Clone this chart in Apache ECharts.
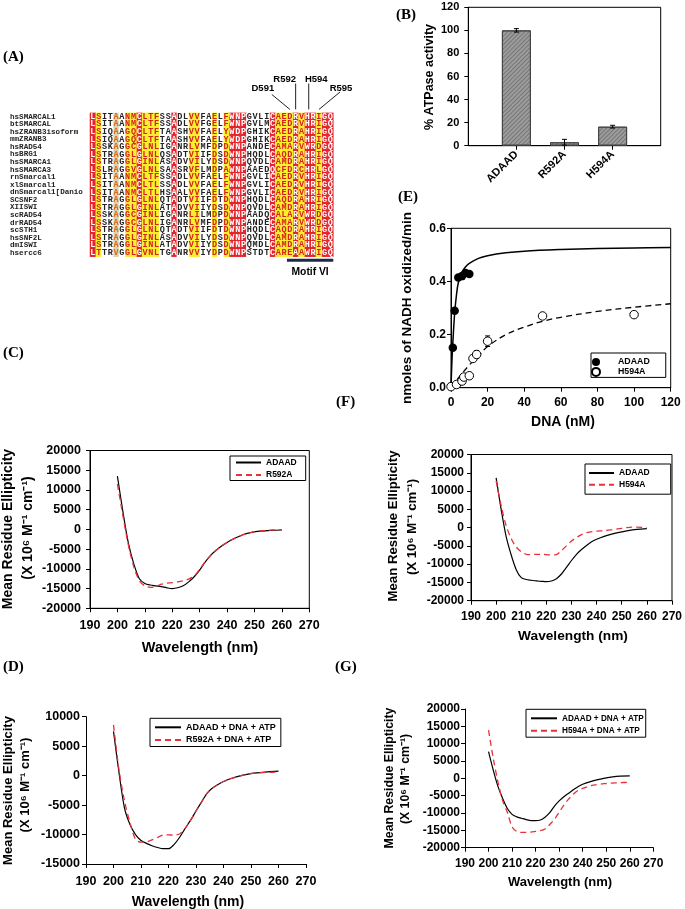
<!DOCTYPE html>
<html><head><meta charset="utf-8">
<script src="https://cdn.jsdelivr.net/npm/echarts@6/dist/echarts.min.js"></script>
<style>html,body{margin:0;padding:0;background:#fff}#c{width:685px;height:909px}</style>
</head><body><div id="c"></div>
<script>
const FONT = '"Liberation Sans", Arial, sans-serif';
const MONO = '"Liberation Mono", "DejaVu Sans Mono", monospace';
const SERIF = '"Liberation Serif", "Times New Roman", serif';

// ---------- Panel A: alignment ----------
const seqNames = ['hsSMARCAL1','btSMARCAL','hsZRANB3isoform','mmZRANB3','hsRAD54','hsBRG1','hsSMARCA1','hsSMARCA3','rnSmarcal1','xlSmarcal1','dnSmarcal1[Danio','SCSNF2','XIISWI','scRAD54','drRAD54','scSTH1','hsSNF2L','dmISWI','hsercc6'];
const seqs = [
 'LSITAANMCLTFSSADLVVFAELFWNPGVLICAEDRVHRIGQ',
 'LSITAANMCLTFSSADLVVFGELFWNPGVLMCAEDRVHRIGQ',
 'LSIQAAGQCLTFTAASHVVFAELYWDPGHIKCAEDRAHRIGQ',
 'LSIQAAGQCLTFTAASHVVFAELYWDPGHIKCAEDRAHRIGQ',
 'LSSKAGGCGLNLIGANRLVMFDPDWNPANDECAMARVWRDGQ',
 'LSTRAGGLGLNLQSADTVIIFDSDWNPHQDLCAQDRAHRIGQ',
 'LSTRAGGLGINLASADVVILYDSDWNPQVDLCAMDRAHRIGQ',
 'LSLRAGGVGLNLSAASRVFLMDPAWNPAAEDQCFDRCHRLGQ',
 'LSITAANMCLTFSSADLVVFAELFWNPGVLICAEDRVHRIGQ',
 'LSITAANMCLTLSSADLVVFAELFWNPGVLICAEDRVHRIGQ',
 'LSITAANMCLTLHSAALVVFAELFWNPGVLICAEDRVHRIGQ',
 'LSTRAGGLGLNLQTADTVIIFDTDWNPHQDLCAQDRAHRIGQ',
 'LSTRAGGLGINLATADVVIIYDSDWNPQVDLCAMDRAHRIGQ',
 'LSSKAGGCGINLIGANRLILMDPDWNPAADQCALARVWRDGQ',
 'LSSKAGGCGLNLIGANRLVMFDPDWNPANDECAMARVWRDGQ',
 'LSTRAGGLGLNLQTADTVIIFDTDWNPHQDLCAQDRAHRIGQ',
 'LSTRAGGLGINLASADVVILYDSDWNPQVDLCAMDRAHRIGQ',
 'LSTRAGGLGINLATADVVIIYDSDWNPQMDLCAMDRAHRIGQ',
 'LTTRVGGLGVNLTGANRVVIYDPDWNPSTDTCAREAAWRIGQ'
];
const columnClass = 'RYWWBWYYRYYYWWRWWYYWWYWYRRRWWWWRYYYRYRRYRR';
const siteLabels = ['D591','R592','H594','R595'];
const siteColumns = [34, 35, 37, 38];
const motifLabel = 'Motif VI';
const motifColumns = [34, 41];

// ---------- Panel B ----------
const bNames = ['ADAAD','R592A','H594A'];
const bValues = [100, 3, 16.5];
const bErrors = [1.5, 2.5, 1.2];

// ---------- Panel E ----------
const eAdaadX = [1, 2, 4, 6, 8, 10];
const eAdaadY = [0.15, 0.29, 0.415, 0.42, 0.432, 0.428];
const eH594X = [0, 3, 6, 7, 10, 12, 14, 20, 50, 100];
const eH594Y = [0.004, 0.012, 0.025, 0.04, 0.045, 0.11, 0.125, 0.175, 0.27, 0.275];
const eH594Err = [0, 0, 0, 0, 0.005, 0.008, 0.015, 0.02, 0.005, 0.005];
const eAdaadFitX = [0, 0.5, 1, 2, 3, 4, 6, 8, 10, 15, 20, 30, 40, 60, 80, 100, 120];
const eAdaadFitY = [0, 0.1, 0.17, 0.28, 0.35, 0.395, 0.435, 0.455, 0.468, 0.487, 0.497, 0.508, 0.514, 0.52, 0.524, 0.526, 0.528];
const eH594FitX = [0, 5, 10, 15, 20, 30, 40, 50, 60, 80, 100, 120];
const eH594FitY = [0, 0.045, 0.085, 0.12, 0.155, 0.2, 0.228, 0.25, 0.265, 0.287, 0.303, 0.316];

// ---------- CD spectra (C, F, D, G) ----------
const wl = [200,202,204,206,208,210,212,214,216,218,220,222,224,226,228,230,232,234,236,238,240,243,246,249,252,256,260];
const cAdaad = [13500,4500,-3500,-8800,-12500,-13700,-14100,-14300,-14500,-14800,-15000,-14800,-14300,-13300,-12000,-10300,-8300,-6600,-5300,-4200,-3300,-2200,-1300,-750,-450,-250,-150];
const cR592A = [11500,3500,-4000,-9500,-13000,-14300,-14700,-14500,-13900,-13600,-13500,-13300,-13000,-12600,-11800,-10100,-8200,-6600,-5300,-4200,-3300,-2200,-1300,-750,-400,-200,-50];
const fAdaad = [13600,5000,-2500,-7500,-11500,-13700,-14200,-14400,-14600,-14700,-14800,-14600,-14000,-12700,-10900,-9000,-7300,-6000,-4900,-3900,-3200,-2400,-1800,-1300,-900,-500,-300];
const fH594A = [12800,6000,500,-3000,-5300,-6600,-7300,-7400,-7300,-7300,-7400,-7500,-7400,-6300,-5000,-3700,-2700,-1900,-1400,-1150,-950,-850,-600,-300,0,150,0];
const dAdaad = [7500,500,-5500,-8300,-10000,-11000,-11500,-11900,-12200,-12400,-12400,-11700,-10500,-9000,-7600,-6000,-4500,-3000,-2100,-1500,-1000,-450,-50,250,450,650,750];
const dR592A = [8600,1000,-4300,-8000,-10800,-11300,-11250,-10900,-10500,-10100,-10050,-10100,-9900,-9000,-7600,-6000,-4500,-3000,-2100,-1500,-1000,-450,-50,250,450,550,600];
const gAdaad = [7700,2400,-2300,-5800,-8700,-10400,-11100,-11500,-11900,-12200,-12200,-12000,-11200,-9900,-8000,-6500,-5300,-4300,-3300,-2400,-1700,-1000,-450,0,350,650,700];
const gH594A = [13900,5800,-1000,-6500,-9800,-14000,-15300,-15600,-15600,-15500,-15300,-15100,-14600,-13300,-11800,-9800,-7700,-6000,-4600,-3500,-2900,-2200,-1800,-1550,-1400,-1250,-1150];

// ---------- helpers ----------
const axisLine = {show:true, onZero:false, lineStyle:{color:'#000', width:1}};
const axisTick = {show:true, length:4, inside:false, lineStyle:{color:'#000', width:1}};
const plain = v => String(v);
function lbl(size, margin, extra){ return Object.assign({color:'#000', fontFamily:FONT, fontWeight:'bold', fontSize:size, margin:margin, formatter:plain}, extra||{}); }
function vAxis(gi, min, max, interval, label, extra){
  return Object.assign({type:'value', gridIndex:gi, min:min, max:max, interval:interval, splitLine:{show:false}, axisLine:axisLine, axisTick:axisTick, axisLabel:label}, extra||{});
}
const box = {show:true, borderColor:'#000', borderWidth:1, backgroundColor:'transparent'};
const pair = (xs, ys) => xs.map((x,i)=>[x, ys[i]]);
const BLACK = {color:'#000', width:1.2};
const REDDASH = {color:'#e8303a', width:1.3, type:[6,4]};

function errRender(params, api){
  const x = api.value(0), y = api.value(1), e = api.value(2);
  if (!e) return null;
  const t = api.coord([x, y+e]), b = api.coord([x, y-e]);
  const hw = 2.5, st = {stroke:'#000', lineWidth:1};
  return {type:'group', children:[
    {type:'line', shape:{x1:t[0],y1:t[1],x2:b[0],y2:b[1]}, style:st},
    {type:'line', shape:{x1:t[0]-hw,y1:t[1],x2:t[0]+hw,y2:t[1]}, style:st},
    {type:'line', shape:{x1:b[0]-hw,y1:b[1],x2:b[0]+hw,y2:b[1]}, style:st}
  ]};
}

// heatmap series for alignment
const classStyle = {
  R:{bg:'#e4232b', fg:'#ffffff'},
  Y:{bg:'#f9ef2e', fg:'#d4221c'},
  B:{bg:'#d9d2b2', fg:'#e0660e'},
  W:{bg:'#ffffff', fg:'#222222'}
};
const alignSeries = Object.keys(classStyle).map(k => {
  const data = [];
  seqs.forEach((s, r) => { for (let c = 0; c < s.length; c++) if (columnClass[c] === k) data.push([c, r, 0]); });
  return {type:'heatmap', xAxisIndex:0, yAxisIndex:0, data:data, itemStyle:{color:classStyle[k].bg},
    label:{show:true, color:classStyle[k].fg, fontFamily:MONO, fontWeight:'bold', fontSize:8.5,
      formatter: p => seqs[p.value[1]][p.value[0]]},
    emphasis:{disabled:true}};
});

function legend(left, top, names, opts){
  return Object.assign({left:left, top:top, orient:'vertical', data:names, formatter: n => n.slice(2),
    selectedMode:false, borderColor:'#000', borderWidth:1, borderRadius:0, itemWidth:26, itemHeight:9, itemGap:3.5,
    itemStyle:{opacity:0},
    textStyle:{fontFamily:FONT, fontWeight:'bold', fontSize:8.5, color:'#000', lineHeight:9}}, opts);
}

const option = {
  animation:false,
  backgroundColor:'#fff',
  grid:[
    {left:90, top:112.9, width:243.3, height:143.8},
    Object.assign({left:468.3, top:7.3, width:192.4, height:138.4}, box),
    Object.assign({left:451, top:228.3, width:219.7, height:159.4}, box),
    Object.assign({left:90, top:450.5, width:219.3, height:157.8}, box),
    Object.assign({left:471, top:454.5, width:203.3, height:146.2}, box),
    {left:86, top:716.7, width:220, height:147.3},
    {left:465, top:709, width:188.3, height:138.7}
  ],
  xAxis:[
    {type:'category', gridIndex:0, data:seqs[0].split('').map((_,i)=>String(i)), show:false},
    vAxis(1, 0, 4, 1, lbl(11, 7, {rotate:45, customValues:[1,2,3], formatter: v => bNames[v-1] || ''}),
      {axisTick:Object.assign({}, axisTick, {customValues:[1,2,3]})}),
    vAxis(2, 0, 120, 20, lbl(12, 9)),
    vAxis(3, 190, 270, 10, lbl(12.5, 11)),
    vAxis(4, 190, 270, 10, lbl(12, 10)),
    vAxis(5, 190, 270, 10, lbl(12.5, 11)),
    vAxis(6, 190, 270, 10, lbl(12, 10))
  ],
  yAxis:[
    {type:'category', gridIndex:0, data:seqNames, inverse:true, axisLine:{show:false}, axisTick:{show:false},
      axisLabel:{interval:0, align:'left', margin:80, fontFamily:MONO, fontWeight:'bold', fontSize:7.6, color:'#222'}},
    vAxis(1, 0, 120, 20, lbl(11, 9)),
    vAxis(2, 0, 0.6, 0.2, lbl(12, 5, {formatter: v => v.toFixed(1)})),
    vAxis(3, -20000, 20000, 5000, lbl(12.5, 9)),
    vAxis(4, -20000, 20000, 5000, lbl(12, 7)),
    vAxis(5, -15000, 10000, 5000, lbl(12.5, 6)),
    vAxis(6, -20000, 20000, 5000, lbl(12, 5))
  ],
  legend:[
    legend(591, 353, ['E_ADAAD','E_H594A'], {itemStyle:{opacity:1}, padding:[4.5,16,0.5,0], itemWidth:18, itemHeight:8, itemGap:0.4,
      textStyle:{fontFamily:FONT, fontWeight:'bold', fontSize:8.8, color:'#000', lineHeight:8, padding:[0,0,0,8]}}),
    legend(230, 456, ['C_ADAAD','C_R592A'], {padding:[2,9,1,5], itemWidth:25}),
    legend(585, 464, ['F_ADAAD','F_H594A'], {padding:[4.5,21,5,3], itemWidth:25, itemGap:2.7}),
    legend(150, 718.3, ['D_ADAAD + DNA + ATP','D_R592A + DNA + ATP'], {padding:[4.5,5,2,4], itemGap:3.7, textStyle:{fontFamily:FONT, fontWeight:'bold', fontSize:9, color:'#000', lineHeight:9}}),
    legend(526, 709.3, ['G_ADAAD + DNA + ATP','G_H594A + DNA + ATP'], {padding:[4.5,2,2,4], itemGap:3.4, textStyle:{fontFamily:FONT, fontWeight:'bold', fontSize:8.2, color:'#000', lineHeight:9}})
  ],
  series:[
    ...alignSeries,
    // B
    {type:'bar', xAxisIndex:1, yAxisIndex:1, barWidth:29, data:bValues.map((v,i)=>[i+1, v]),
      itemStyle:{color:'#9c9c9c', borderColor:'#444', borderWidth:1,
        decal:{symbol:'rect', symbolSize:1, color:'rgba(70,70,70,0.45)', dashArrayX:[1,0], dashArrayY:[1,2], rotation:-Math.PI/4}},
      emphasis:{disabled:true}},
    {type:'custom', xAxisIndex:1, yAxisIndex:1, renderItem:errRender, data:bValues.map((v,i)=>[i+1, v, bErrors[i]]), z:5},
    // E
    {type:'line', name:'E_ADAAD_fit', xAxisIndex:2, yAxisIndex:2, data:pair(eAdaadFitX, eAdaadFitY), symbol:'none', smooth:0.35, lineStyle:{color:'#000', width:1.5}},
    {type:'line', name:'E_H594A_fit', xAxisIndex:2, yAxisIndex:2, data:pair(eH594FitX, eH594FitY), symbol:'none', smooth:0.35, lineStyle:{color:'#000', width:1.3, type:[6,4]}},
    {type:'custom', xAxisIndex:2, yAxisIndex:2, renderItem:errRender, data:eH594X.map((x,i)=>[x, eH594Y[i], eH594Err[i]]), z:2},
    {type:'scatter', name:'E_ADAAD', xAxisIndex:2, yAxisIndex:2, data:pair(eAdaadX, eAdaadY), symbolSize:8.5, itemStyle:{color:'#000', opacity:1}, emphasis:{disabled:true}, z:4},
    {type:'scatter', name:'E_H594A', xAxisIndex:2, yAxisIndex:2, data:pair(eH594X, eH594Y), symbolSize:8.5, itemStyle:{color:'#fff', borderColor:'#000', borderWidth:1, opacity:1}, emphasis:{disabled:true}, z:4},
    // C
    {type:'line', name:'C_ADAAD', xAxisIndex:3, yAxisIndex:3, data:pair(wl, cAdaad), symbol:'none', smooth:0.3, lineStyle:BLACK, itemStyle:{color:'#000'}},
    {type:'line', name:'C_R592A', xAxisIndex:3, yAxisIndex:3, data:pair(wl, cR592A), symbol:'none', smooth:0.3, lineStyle:REDDASH, itemStyle:{color:'#e8303a'}},
    // F
    {type:'line', name:'F_ADAAD', xAxisIndex:4, yAxisIndex:4, data:pair(wl, fAdaad), symbol:'none', smooth:0.3, lineStyle:BLACK, itemStyle:{color:'#000'}},
    {type:'line', name:'F_H594A', xAxisIndex:4, yAxisIndex:4, data:pair(wl, fH594A), symbol:'none', smooth:0.3, lineStyle:REDDASH, itemStyle:{color:'#e8303a'}},
    // D
    {type:'line', name:'D_ADAAD + DNA + ATP', xAxisIndex:5, yAxisIndex:5, data:pair(wl, dAdaad), symbol:'none', smooth:0.3, lineStyle:BLACK, itemStyle:{color:'#000'}},
    {type:'line', name:'D_R592A + DNA + ATP', xAxisIndex:5, yAxisIndex:5, data:pair(wl, dR592A), symbol:'none', smooth:0.3, lineStyle:REDDASH, itemStyle:{color:'#e8303a'}},
    // G
    {type:'line', name:'G_ADAAD + DNA + ATP', xAxisIndex:6, yAxisIndex:6, data:pair(wl, gAdaad), symbol:'none', smooth:0.3, lineStyle:BLACK, itemStyle:{color:'#000'}},
    {type:'line', name:'G_H594A + DNA + ATP', xAxisIndex:6, yAxisIndex:6, data:pair(wl, gH594A), symbol:'none', smooth:0.3, lineStyle:REDDASH, itemStyle:{color:'#e8303a'}}
  ]
};

const chart = echarts.init(document.getElementById('c'), null, {renderer:'canvas', width:685, height:909});
chart.setOption(option);

// ---------- graphics: titles, panel letters, annotations ----------
function txt(t, x, y, size, opts){
  opts = opts || {};
  return {type:'text', x:x, y:y, rotation:opts.rot ? Math.PI/2 : 0, silent:true,
    style:{text:t, font:`bold ${size}px ${opts.serif ? SERIF : FONT}`, fill:'#000', align:opts.align || 'center', verticalAlign:'middle'}};
}
const g = [];
[['(A)',3,57],['(B)',396,15],['(C)',3,353],['(D)',3,667],['(E)',398,197],['(F)',336,402],['(G)',335,667]]
  .forEach(p => g.push(txt(p[0], p[1], p[2], 15, {serif:true, align:'left'})));
const ME = 'Mean Residue Ellipticity', UNIT = '(X 10\u2076 M\u207B\u00B9 cm\u207B\u00B9)', WL = 'Wavelength (nm)';
g.push(txt('% ATPase activity', 430, 77, 12.5, {rot:true}));
g.push(txt('nmoles of NADH oxidized/min', 407, 308, 13.5, {rot:true}));
g.push(txt('DNA (nM)', 563, 421.7, 14));
g.push(txt(ME, 8, 529, 14, {rot:true}), txt(UNIT, 28, 528, 14, {rot:true}), txt(WL, 200, 648, 14.5));
g.push(txt(ME, 393, 526, 13.2, {rot:true}), txt(UNIT, 412.5, 527, 13.2, {rot:true}), txt(WL, 573, 636.7, 13.7));
g.push(txt(ME, 8.3, 790.5, 13, {rot:true}), txt(UNIT, 25, 785, 13, {rot:true}), txt(WL, 188, 901.7, 14));
g.push(txt(ME, 389.5, 778, 12.3, {rot:true}), txt(UNIT, 406, 779, 12.3, {rot:true}), txt(WL, 560, 882.7, 13));

// residue site annotations, anchored on the alignment's column positions
const cellW = chart.convertToPixel({gridIndex:0}, [1, 0])[0] - chart.convertToPixel({gridIndex:0}, [0, 0])[0];
const topY = chart.convertToPixel({gridIndex:0}, [0, 0])[1] - 3.8;
const siteLayout = [
  {lx:-27, ly:88.3, x1:-18, y1:94.5, x2:0},
  {lx:-11, ly:79.3, x1:0, y1:83.5, x2:0},
  {lx:9, ly:79.3, x1:1.5, y1:83.5, x2:1.5},
  {lx:28, ly:88.3, x1:27, y1:92, x2:6}
];
siteLabels.forEach((s, i) => {
  const cx = chart.convertToPixel({gridIndex:0}, [siteColumns[i], 0])[0];
  const L = siteLayout[i];
  g.push(txt(s, cx + L.lx, L.ly, 9.5));
  g.push({type:'line', silent:true, shape:{x1:cx + L.x1, y1:L.y1, x2:cx + L.x2, y2:topY - 3.5}, style:{stroke:'#222', lineWidth:1}});
});
const botY = chart.convertToPixel({gridIndex:0}, [0, seqs.length-1])[1] + 3.8;
const mx1 = chart.convertToPixel({gridIndex:0}, [motifColumns[0], 0])[0] - cellW/2;
const mx2 = chart.convertToPixel({gridIndex:0}, [motifColumns[1], 0])[0] + cellW/2;
g.push({type:'rect', silent:true, shape:{x:mx1, y:botY + 2, width:mx2 - mx1, height:3}, style:{fill:'#1c2a48'}});
g.push(txt(motifLabel, (mx1 + mx2)/2, botY + 15, 10.3));

chart.setOption({graphic:g});
</script>
</body></html>
